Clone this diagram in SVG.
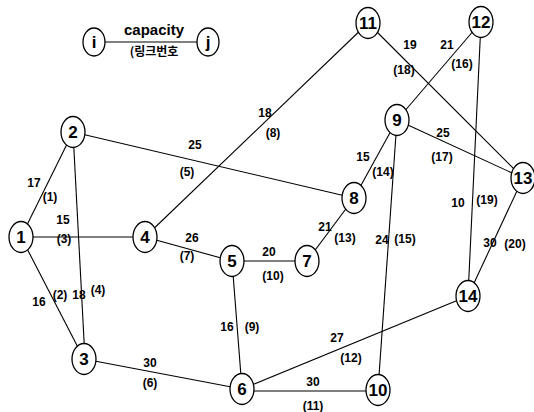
<svg xmlns="http://www.w3.org/2000/svg" width="534" height="412" viewBox="0 0 534 412">
<style>
.e{stroke:#000;stroke-width:1.1;fill:none}
.n ellipse{fill:#fff;stroke:#000;stroke-width:1.3}
.n text{font-family:"Liberation Sans",Arial,sans-serif;font-weight:bold;font-size:17px;text-anchor:middle}
.l{font-family:"Liberation Sans",Arial,sans-serif;font-weight:bold;font-size:12px;text-anchor:middle}
</style>
<rect width="534" height="412" fill="#fff"/>
<g id="legend">
<line class="e" x1="94" y1="42" x2="208" y2="42"/>
<g class="n"><ellipse cx="94" cy="42" rx="11" ry="14"/><text x="94" y="48">i</text></g>
<g class="n"><ellipse cx="208" cy="42" rx="11" ry="14"/><text x="208" y="48">j</text></g>
<text class="l" x="154" y="35" style="font-size:15px">capacity</text>
<text class="l" x="154" y="56" style="font-family:'Noto Sans CJK KR',sans-serif;font-size:12px;font-weight:bold">(링크번호</text>
</g>
<g id="connectors">
<line class="e" x1="21" y1="237" x2="73" y2="132"/>
<line class="e" x1="21" y1="237" x2="84" y2="359"/>
<line class="e" x1="21" y1="237" x2="145" y2="237"/>
<line class="e" x1="73" y1="132" x2="85" y2="359"/>
<line class="e" x1="73" y1="132" x2="354" y2="198"/>
<line class="e" x1="84" y1="359" x2="242" y2="389"/>
<line class="e" x1="145" y1="237" x2="232" y2="261"/>
<line class="e" x1="145" y1="237" x2="368" y2="23"/>
<line class="e" x1="232" y1="261" x2="242" y2="389"/>
<line class="e" x1="232" y1="261" x2="307" y2="261"/>
<line class="e" x1="242" y1="391" x2="378" y2="391"/>
<line class="e" x1="242" y1="389" x2="468" y2="296"/>
<line class="e" x1="307" y1="261" x2="354" y2="198"/>
<line class="e" x1="354" y1="198" x2="397" y2="120"/>
<line class="e" x1="397" y1="120" x2="378" y2="390"/>
<line class="e" x1="397" y1="120" x2="481" y2="22"/>
<line class="e" x1="397" y1="120" x2="523" y2="178"/>
<line class="e" x1="368" y1="23" x2="523" y2="178"/>
<line class="e" x1="481" y1="22" x2="468" y2="296"/>
<line class="e" x1="523" y1="178" x2="468" y2="296"/>
</g>
<g id="edge-labels">
<text class="l" x="34" y="187">17</text><text class="l" x="50" y="201">(1)</text>
<text class="l" x="39" y="306">16</text><text class="l" x="60" y="299">(2)</text>
<text class="l" x="63" y="224">15</text><text class="l" x="64" y="243">(3)</text>
<text class="l" x="79" y="299">18</text><text class="l" x="98" y="294">(4)</text>
<text class="l" x="195" y="149">25</text><text class="l" x="187" y="176">(5)</text>
<text class="l" x="150" y="367">30</text><text class="l" x="150" y="387">(6)</text>
<text class="l" x="192" y="242">26</text><text class="l" x="187" y="260">(7)</text>
<text class="l" x="265" y="117">18</text><text class="l" x="273" y="137">(8)</text>
<text class="l" x="227" y="331">16</text><text class="l" x="252" y="331">(9)</text>
<text class="l" x="269" y="256">20</text><text class="l" x="273" y="280">(10)</text>
<text class="l" x="313" y="386">30</text><text class="l" x="313" y="410">(11)</text>
<text class="l" x="337" y="342">27</text><text class="l" x="351" y="362">(12)</text>
<text class="l" x="325" y="231">21</text><text class="l" x="345" y="242">(13)</text>
<text class="l" x="363" y="161">15</text><text class="l" x="383" y="176">(14)</text>
<text class="l" x="382" y="244">24</text><text class="l" x="405" y="243">(15)</text>
<text class="l" x="447" y="49">21</text><text class="l" x="462" y="68">(16)</text>
<text class="l" x="443" y="137">25</text><text class="l" x="442" y="161">(17)</text>
<text class="l" x="410" y="49">19</text><text class="l" x="404" y="74">(18)</text>
<text class="l" x="458" y="207">10</text><text class="l" x="487" y="204">(19)</text>
<text class="l" x="490" y="247">30</text><text class="l" x="515" y="248">(20)</text>
</g>
<g id="node1" class="n"><ellipse cx="21" cy="237" rx="12" ry="15.5"/><text x="21" y="243">1</text></g>
<g id="node2" class="n"><ellipse cx="73" cy="132" rx="12" ry="15.5"/><text x="73" y="138">2</text></g>
<g id="node3" class="n"><ellipse cx="84" cy="359" rx="12" ry="15.5"/><text x="84" y="365">3</text></g>
<g id="node4" class="n"><ellipse cx="145" cy="237" rx="12" ry="15.5"/><text x="145" y="243">4</text></g>
<g id="node5" class="n"><ellipse cx="232" cy="261" rx="12" ry="15.5"/><text x="232" y="267">5</text></g>
<g id="node6" class="n"><ellipse cx="242" cy="389" rx="12" ry="15.5"/><text x="242" y="395">6</text></g>
<g id="node7" class="n"><ellipse cx="307" cy="261" rx="12" ry="15.5"/><text x="307" y="267">7</text></g>
<g id="node8" class="n"><ellipse cx="354" cy="198" rx="12" ry="15.5"/><text x="354" y="204">8</text></g>
<g id="node9" class="n"><ellipse cx="397" cy="120" rx="12" ry="15.5"/><text x="397" y="126">9</text></g>
<g id="node10" class="n"><ellipse cx="378" cy="390" rx="12" ry="15.5"/><text x="378" y="396">10</text></g>
<g id="node11" class="n"><ellipse cx="368" cy="23" rx="12" ry="15.5"/><text x="368" y="29">11</text></g>
<g id="node12" class="n"><ellipse cx="481" cy="22" rx="12" ry="15.5"/><text x="481" y="28">12</text></g>
<g id="node13" class="n"><ellipse cx="523" cy="178" rx="12" ry="15.5"/><text x="523" y="184">13</text></g>
<g id="node14" class="n"><ellipse cx="468" cy="296" rx="12" ry="15.5"/><text x="468" y="302">14</text></g>
</svg>
